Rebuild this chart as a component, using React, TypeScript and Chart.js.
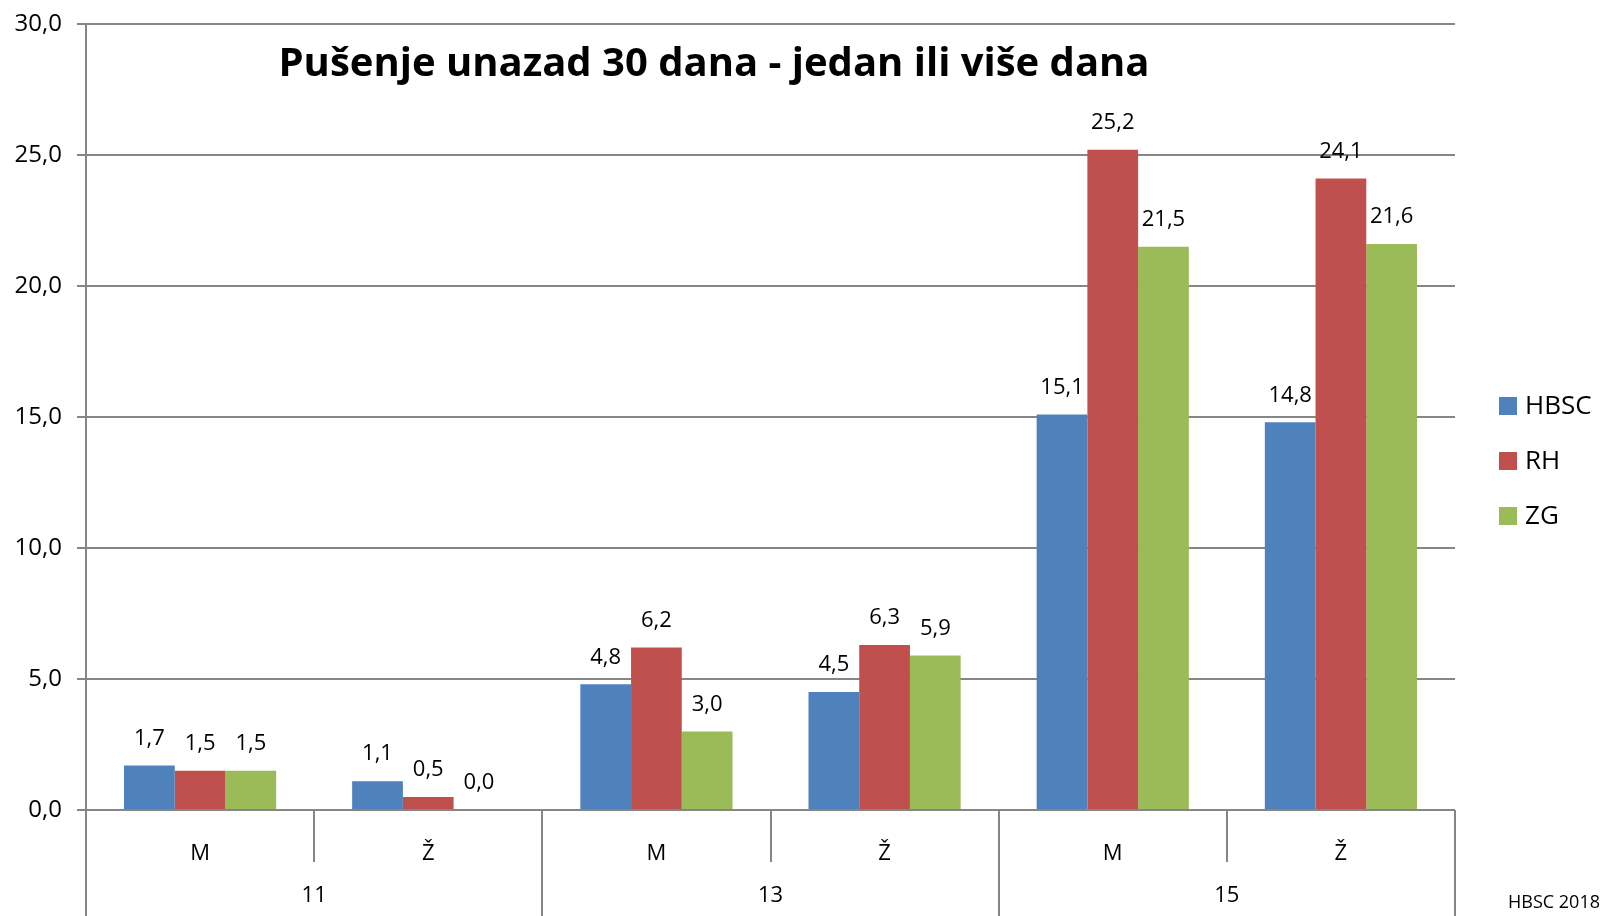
import React, { useEffect, useRef } from "react";
import { Chart, registerables } from "chart.js";

Chart.register(...registerables);

const categories = ["M", "Ž", "M", "Ž", "M", "Ž"];
const groups = ["11", "13", "15"];
const seriesNames = ["HBSC", "RH", "ZG"];
const hbscValues = [1.7, 1.1, 4.8, 4.5, 15.1, 14.8];
const rhValues = [1.5, 0.5, 6.2, 6.3, 25.2, 24.1];
const zgValues = [1.5, 0.0, 3.0, 5.9, 21.5, 21.6];
const seriesColors = ["#4F81BD", "#C0504D", "#9BBB59"];
const yMin = 0;
const yMax = 30;
const yStep = 5;
const titleText = "Pušenje unazad 30 dana - jedan ili više dana";
const sourceText = "HBSC 2018";

const FONT = "'Open Sans', 'Noto Sans', sans-serif";
const GRID = "#868686";

const fmt = (v: number) => v.toFixed(1).replace(".", ",");

const overlayPlugin = {
  id: "overlay",
  afterDatasetsDraw(chart: any) {
    const ctx = chart.ctx;
    ctx.save();
    ctx.fillStyle = "#000";
    ctx.font = `22px ${FONT}`;
    ctx.textAlign = "center";
    ctx.textBaseline = "middle";
    chart.data.datasets.forEach((ds: any, di: number) => {
      const meta = chart.getDatasetMeta(di);
      meta.data.forEach((bar: any, i: number) => {
        ctx.fillText(fmt(ds.data[i]), bar.x, bar.y - 27);
      });
    });
    ctx.restore();
  },
  afterDraw(chart: any) {
    const ctx = chart.ctx;
    const area = chart.chartArea;
    const H = chart.height;
    ctx.save();
    ctx.strokeStyle = GRID;
    ctx.lineWidth = 2;
    const n = categories.length;
    const catW = (area.right - area.left) / n;
    const perGroup = n / groups.length;
    for (let i = 0; i <= n; i++) {
      const px = Math.round(area.left + catW * i);
      const long = i % perGroup === 0;
      ctx.beginPath();
      ctx.moveTo(px, area.bottom);
      ctx.lineTo(px, long ? H : area.bottom + 52);
      ctx.stroke();
    }
    ctx.fillStyle = "#000";
    ctx.font = `22px ${FONT}`;
    ctx.textAlign = "center";
    ctx.textBaseline = "middle";
    groups.forEach((g, gi) => {
      const cx = area.left + catW * perGroup * (gi + 0.5);
      ctx.fillText(g, cx, 896);
    });
    ctx.font = `bold 40px ${FONT}`;
    ctx.fillText(titleText, 714, 65);
    ctx.font = `26px ${FONT}`;
    ctx.textAlign = "left";
    seriesNames.forEach((name, i) => {
      const cy = 406 + i * 55;
      ctx.fillStyle = seriesColors[i];
      ctx.fillRect(1499, cy - 9, 18, 18);
      ctx.fillStyle = "#000";
      ctx.fillText(name, 1525, cy + 1);
    });
    ctx.font = `18px ${FONT}`;
    ctx.textAlign = "right";
    ctx.fillText(sourceText, 1600, 903);
    ctx.restore();
  },
};

export default function App() {
  const ref = useRef<HTMLCanvasElement>(null);
  useEffect(() => {
    document.body.style.margin = "0";
    const chart = new Chart(ref.current!, {
      type: "bar",
      data: {
        labels: categories,
        datasets: [hbscValues, rhValues, zgValues].map((d, i) => ({
          label: seriesNames[i],
          data: d,
          backgroundColor: seriesColors[i],
          borderWidth: 0,
          categoryPercentage: 0.667,
          barPercentage: 1,
        })),
      },
      options: {
        responsive: false,
        animation: false,
        layout: { padding: { top: 24, right: 146, left: 0, bottom: 0 } },
        plugins: {
          legend: { display: false },
          tooltip: { enabled: false },
          title: { display: false },
        },
        scales: {
          x: {
            grid: { display: false },
            border: { display: false },
            ticks: {
              color: "#000",
              font: { family: FONT, size: 22 },
              padding: 23,
              maxRotation: 0,
            },
            afterFit: (s: any) => {
              s.height = 106;
              s.paddingLeft = 0;
              s.paddingRight = 0;
            },
          },
          y: {
            min: yMin,
            max: yMax,
            border: { display: true, color: GRID, width: 2 },
            grid: { color: GRID, lineWidth: 2, tickLength: 9 },
            ticks: {
              stepSize: yStep,
              color: "#000",
              font: { family: FONT, size: 24 },
              padding: 15,
              callback: (v: any) => fmt(Number(v)),
            },
            afterFit: (s: any) => {
              s.width = 86;
              s.paddingTop = 0;
              s.paddingBottom = 0;
            },
          },
        },
      },
      plugins: [overlayPlugin],
    });
    return () => chart.destroy();
  }, []);
  return (
    <div style={{ position: "absolute", left: 0, top: 0, width: 1601, height: 916, background: "#fff" }}>
      <canvas ref={ref} width={1601} height={916} />
    </div>
  );
}
